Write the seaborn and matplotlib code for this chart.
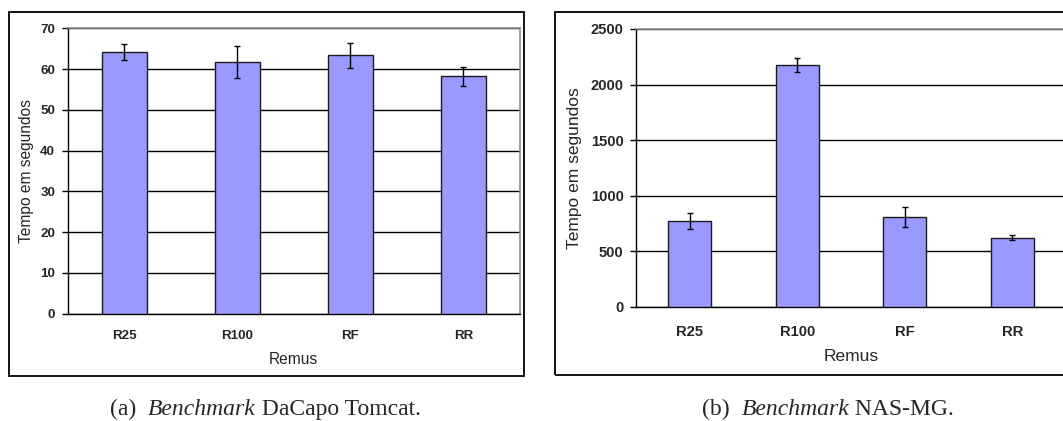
import matplotlib
matplotlib.use("Agg")
import matplotlib.pyplot as plt
from matplotlib.patches import Rectangle
import seaborn as sns
import pandas as pd

# ---- data ----
categories = ["R25", "R100", "RF", "RR"]
tomcat_means = [64.2, 61.8, 63.4, 58.2]
tomcat_errs = [2.0, 3.9, 3.1, 2.3]
nasmg_means = [772, 2175, 806, 620]
nasmg_errs = [72, 66, 90, 24]
tomcat_yticks = [0, 10, 20, 30, 40, 50, 60, 70]
nasmg_yticks = [0, 500, 1000, 1500, 2000, 2500]
ylabel = "Tempo em segundos"
xlabel = "Remus"

sns.set_style("white")
plt.rcParams["font.family"] = ["Liberation Sans", "DejaVu Sans"]

W, H = 1063, 421
fig = plt.figure(figsize=(W / 100, H / 100), dpi=100)

BAR = "#9999FF"


def px_axes(x0, x1, ytop, ybot):
    return fig.add_axes([x0 / W, 1 - ybot / H, (x1 - x0) / W, (ybot - ytop) / H])


def draw_panel(ax, means, errs, yticks, ymax, tick_fs, label_fs, xpad, ylab_x, xlab_y):
    df = pd.DataFrame({"cat": categories, "val": means})
    sns.barplot(data=df, x="cat", y="val", color=BAR, edgecolor="#1a1a1a",
                linewidth=1.0, width=0.4, saturation=1, ax=ax, zorder=3)
    ax.errorbar(range(len(categories)), means, yerr=errs, fmt="none",
                ecolor="black", elinewidth=1.0, capsize=2.2, capthick=1.0, zorder=4)
    ax.set_xlim(-0.5, len(categories) - 0.5)
    ax.set_ylim(0, ymax)
    ax.set_yticks(yticks)
    ax.set_yticklabels([str(t) for t in yticks], fontsize=tick_fs, fontweight="bold")
    ax.set_xticks(range(len(categories)))
    ax.set_xticklabels(categories, fontsize=tick_fs, fontweight="bold")
    ax.set_xticks([i + 0.5 for i in range(-1, len(categories))], minor=True)
    ax.tick_params(axis="x", which="major", length=0, pad=xpad)
    ax.tick_params(axis="x", which="minor", length=4, width=1, color="black", direction="out")
    ax.tick_params(axis="y", which="major", length=4, width=1, color="black",
                   direction="out", pad=5, left=True)
    ax.yaxis.grid(True, color="black", linewidth=1.0, zorder=0)
    ax.set_axisbelow(True)
    for s in ["left", "bottom"]:
        ax.spines[s].set_color("black")
        ax.spines[s].set_linewidth(1.0)
        ax.spines[s].set_visible(True)
    for s in ["top", "right"]:
        ax.spines[s].set_color("#8c8c8c")
        ax.spines[s].set_linewidth(1.2)
        ax.spines[s].set_visible(True)
    ax.set_ylabel(ylabel, fontsize=label_fs)
    ax.set_xlabel(xlabel, fontsize=label_fs)
    ax.yaxis.set_label_coords(ylab_x, 0.5)
    ax.xaxis.set_label_coords(0.5, xlab_y)
    ax.xaxis.label.set_va("center")
    ax.yaxis.label.set_va("center")


ax1 = px_axes(67.6, 520, 28.3, 313.7)
draw_panel(ax1, tomcat_means, tomcat_errs, tomcat_yticks, 70, 9.6, 11.2, 12,
           (26 - 67.6) / 452.4, (313.7 - 359) / 285.4)

ax2 = px_axes(636, 1066, 29, 306.7)
draw_panel(ax2, nasmg_means, nasmg_errs, nasmg_yticks, 2500, 10.6, 12.5, 13,
           (574.5 - 636) / 430, (306.7 - 356.7) / 277.7)

# frames around each chart
fig.patches.append(Rectangle((9 / W, 1 - 375.7 / H), (524 - 9) / W, (375.7 - 12) / H,
                             transform=fig.transFigure, fill=False,
                             edgecolor="black", linewidth=1.3))
fig.patches.append(Rectangle((554.5 / W, 1 - 375 / H), (1075 - 554.5) / W, (375 - 12) / H,
                             transform=fig.transFigure, fill=False,
                             edgecolor="black", linewidth=1.3, clip_on=False))

# captions with mixed italic
cap_fs = 17
serif = ["Liberation Serif", "DejaVu Serif"]
def caption(parts, cx, base_y):
    fig.canvas.draw()
    r = fig.canvas.get_renderer()
    texts = []
    for s, style in parts:
        t = fig.text(0, 1 - base_y / H, s, fontsize=cap_fs, family=serif,
                     style=style, va="baseline", ha="left")
        texts.append(t)
    widths = [t.get_window_extent(r).width for t in texts]
    total = sum(widths)
    x = cx - total / 2
    for t, w in zip(texts, widths):
        t.set_x(x / W)
        x += w

caption([("(a)\u2002", "normal"), ("Benchmark", "italic"), (" DaCapo Tomcat.", "normal")], 265, 415)
caption([("(b)\u2002", "normal"), ("Benchmark", "italic"), (" NAS-MG.", "normal")], 828, 415)

fig.savefig("out.png", dpi=100)
